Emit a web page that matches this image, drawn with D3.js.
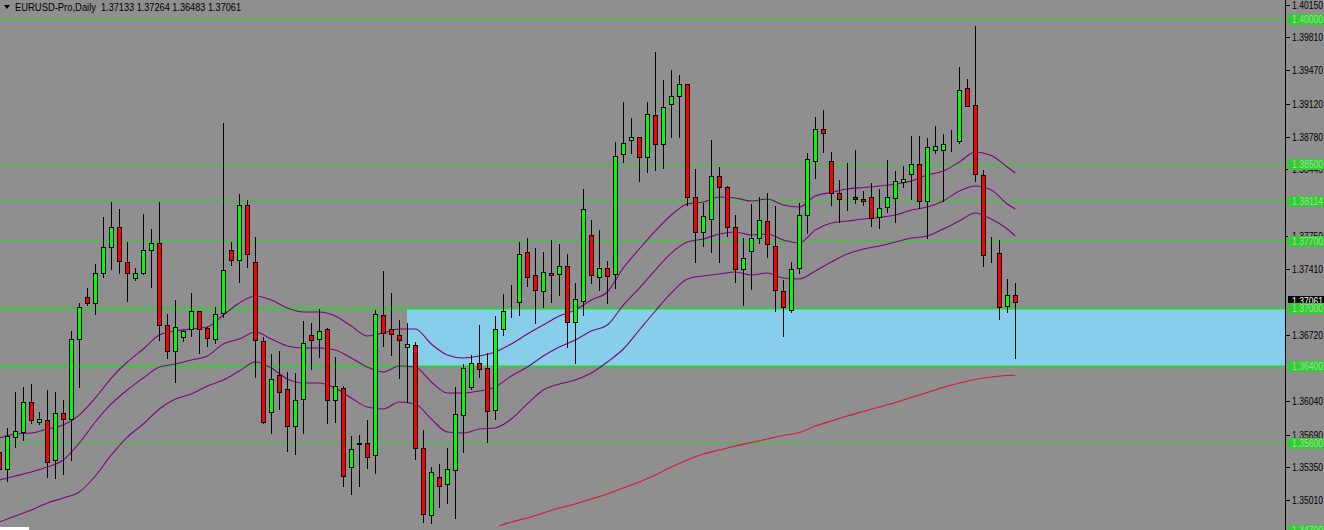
<!DOCTYPE html>
<html><head><meta charset="utf-8">
<script src="https://cdn.jsdelivr.net/npm/d3@7"></script>
<style>html,body{margin:0;padding:0;background:#8f8f8f;overflow:hidden}svg{display:block}</style>
</head><body><svg id="c" width="1324" height="530"></svg>
<script>
const symbolTitle = "EURUSD-Pro,Daily";
const headerValues = [1.37133, 1.37264, 1.36483, 1.37061];

const open = [
1.35510,1.35333,1.35665,1.35717,1.36028,1.35821,1.35842,1.35427,1.35914,1.35852,
1.36682,1.37117,1.37055,1.37366,1.37636,1.37843,1.37480,1.37314,1.37366,1.37604,
1.37677,1.36827,1.36557,1.36702,1.36785,1.36972,1.36796,1.36682,1.36951,1.37604,
1.37501,1.38071,1.37480,1.36661,1.35925,1.36308,1.36163,1.35779,1.36059,1.36723,
1.36682,1.36785,1.36049,1.36173,1.35354,1.35593,1.35603,1.35479,1.36930,1.36785,
1.36723,1.36599,1.36619,1.35551,1.34856,1.35251,1.35178,1.35323,1.35893,1.36184,
1.36433,1.36381,1.35945,1.36785,1.37034,1.37065,1.37584,1.37345,1.37179,1.37366,
1.37356,1.37439,1.36858,1.37076,1.37760,1.37325,1.37418,1.37356,1.38600,1.38745,
1.38776,1.38569,1.39004,1.38704,1.39119,1.39201,1.39326,1.38154,1.37791,1.37926,
1.38372,1.38258,1.37843,1.37407,1.37594,1.37729,1.37905,1.37646,1.37179,1.36982,
1.37418,1.37967,1.38527,1.38859,1.38527,1.38196,1.38133,1.38154,1.38133,1.38154,
1.37947,1.38050,1.38144,1.38310,1.38393,1.38496,1.38113,1.38641,1.38641,1.38745,
1.38735,1.39284,1.39108,1.38382,1.37563,1.37573,1.37024,1.37133];
const high = [
1.35582,1.35759,1.36132,1.36184,1.36215,1.35925,1.36153,1.36132,1.36049,1.36765,
1.37055,1.37210,1.37459,1.37947,1.38102,1.38030,1.37687,1.37418,1.37978,1.37822,
1.38102,1.36941,1.37086,1.36775,1.37159,1.36972,1.36806,1.37013,1.38921,1.37687,
1.38185,1.38123,1.37739,1.36702,1.36526,1.36557,1.36339,1.36329,1.36868,1.36847,
1.36993,1.36796,1.36495,1.36194,1.35676,1.35686,1.35842,1.36982,1.37387,1.37159,
1.36879,1.36847,1.36650,1.35738,1.35354,1.35385,1.35551,1.36184,1.36422,1.36516,
1.36827,1.36536,1.36920,1.37148,1.37241,1.37687,1.37729,1.37625,1.37584,1.37708,
1.37667,1.37563,1.37262,1.38237,1.37916,1.37812,1.37490,1.38724,1.39139,1.38973,
1.38776,1.39139,1.39658,1.39367,1.39471,1.39419,1.39326,1.38444,1.38092,1.38745,
1.38465,1.38268,1.37967,1.37729,1.38082,1.38154,1.38196,1.38061,1.37293,1.37480,
1.38092,1.38610,1.38984,1.39056,1.38621,1.38330,1.38507,1.38641,1.38216,1.38299,
1.38237,1.38538,1.38424,1.38476,1.38787,1.38787,1.38766,1.38890,1.38807,1.38849,
1.39502,1.39378,1.39927,1.38434,1.37739,1.37708,1.37304,1.37264];
const low = [
1.35271,1.35209,1.35562,1.35634,1.35810,1.35800,1.35251,1.35240,1.35282,1.35427,
1.36184,1.37034,1.36941,1.37325,1.37407,1.37366,1.37076,1.37293,1.37356,1.37221,
1.36671,1.36485,1.36236,1.36661,1.36713,1.36536,1.36609,1.36640,1.36910,1.37449,
1.37273,1.37428,1.36288,1.35810,1.35707,1.35956,1.35520,1.35489,1.35707,1.36370,
1.36495,1.35810,1.35821,1.35157,1.35074,1.35157,1.35344,1.35292,1.36609,1.36516,
1.36277,1.36028,1.35437,1.34784,1.34773,1.34939,1.34981,1.34825,1.35510,1.36163,
1.36288,1.35613,1.35852,1.36723,1.36910,1.36930,1.37231,1.36847,1.37013,1.37065,
1.37138,1.36599,1.36433,1.36930,1.37262,1.37190,1.37055,1.37210,1.38517,1.38610,
1.38320,1.38413,1.38434,1.38455,1.38776,1.38776,1.38071,1.37480,1.37646,1.37584,
1.37480,1.37750,1.37273,1.37034,1.37200,1.37677,1.37532,1.36972,1.36713,1.36962,
1.37366,1.37781,1.38351,1.38621,1.38071,1.37895,1.38019,1.38092,1.38071,1.37853,
1.37833,1.37999,1.37895,1.38258,1.38133,1.38040,1.37729,1.38610,1.38113,1.38631,
1.38714,1.39098,1.38320,1.37439,1.37480,1.36889,1.36962,1.36483];
const close = [
1.35333,1.35676,1.35728,1.36028,1.35842,1.35852,1.35406,1.35914,1.35852,1.36682,
1.37013,1.37055,1.37366,1.37636,1.37843,1.37490,1.37366,1.37366,1.37604,1.37677,
1.36827,1.36557,1.36806,1.36765,1.36972,1.36785,1.36692,1.36941,1.37397,1.37501,
1.38071,1.37563,1.36671,1.35821,1.36267,1.36132,1.35779,1.36049,1.36640,1.36671,
1.36765,1.36049,1.36194,1.35261,1.35541,1.35603,1.35458,1.36941,1.36744,1.36733,
1.36671,1.36630,1.35551,1.34867,1.35302,1.35157,1.35333,1.35904,1.36381,1.36433,
1.36370,1.35935,1.36785,1.36972,1.37034,1.37563,1.37325,1.37190,1.37376,1.37345,
1.37439,1.36858,1.37096,1.38030,1.37345,1.37418,1.37335,1.38579,1.38714,1.38776,
1.38569,1.39015,1.38704,1.39087,1.39201,1.39326,1.38154,1.37791,1.37957,1.38372,
1.38258,1.37843,1.37407,1.37522,1.37729,1.37916,1.37667,1.37190,1.37013,1.37407,
1.37967,1.38548,1.38859,1.38818,1.38196,1.38133,1.38133,1.38133,1.38113,1.37936,
1.38040,1.38154,1.38320,1.38341,1.38496,1.38113,1.38673,1.38683,1.38704,1.38745,
1.39264,1.39098,1.38393,1.37553,1.37563,1.37013,1.37138,1.37061];

// moving-average envelope lines, [bar index, price]
const maUpper = [[0,1.35655],[2,1.35696],[4,1.35707],[6,1.35748],[8,1.35790],[10,1.35893],[12,1.36070],[14,1.36277],[16,1.36443],[18,1.36578],
[20,1.36723],[22,1.36765],[24,1.36785],[26,1.36806],[28,1.36930],[30,1.37055],[32,1.37127],[34,1.37086],[36,1.37003],[38,1.36962],
[40,1.36962],[42,1.36920],[44,1.36816],[46,1.36713],[48,1.36744],[50,1.36785],[52,1.36785],[54,1.36630],[56,1.36516],[58,1.36485],
[60,1.36505],[62,1.36547],[64,1.36630],[66,1.36733],[68,1.36827],[70,1.36920],[72,1.36982],[74,1.37086],[76,1.37169],[78,1.37418],
[80,1.37615],[82,1.37802],[84,1.37967],[86,1.38082],[88,1.38102],[90,1.38154],[92,1.38144],[94,1.38113],[96,1.38133],[98,1.38071],
[100,1.38050],[102,1.38164],[104,1.38201],[106,1.38237],[108,1.38253],[110,1.38268],[112,1.38289],[114,1.38320],[116,1.38382],[118,1.38424],
[120,1.38517],[122,1.38621],[124,1.38584],[126,1.38465],[127,1.38403]];
const maMiddle = [[0,1.35219],[2,1.35261],[4,1.35302],[6,1.35354],[8,1.35427],[10,1.35603],[12,1.35821],[14,1.36008],[16,1.36153],[18,1.36277],
[20,1.36391],[22,1.36422],[24,1.36464],[26,1.36505],[28,1.36630],[30,1.36682],[32,1.36754],[34,1.36682],[36,1.36609],[38,1.36588],
[40,1.36588],[42,1.36567],[44,1.36485],[46,1.36391],[48,1.36339],[50,1.36402],[52,1.36391],[54,1.36236],[56,1.36122],[58,1.36122],
[60,1.36142],[62,1.36184],[64,1.36298],[66,1.36391],[68,1.36505],[70,1.36599],[72,1.36671],[74,1.36765],[76,1.36827],[78,1.37034],
[80,1.37210],[82,1.37397],[84,1.37573],[86,1.37687],[88,1.37719],[90,1.37770],[92,1.37791],[94,1.37760],[96,1.37770],[98,1.37708],
[100,1.37677],[102,1.37812],[104,1.37884],[106,1.37905],[108,1.37926],[110,1.37942],[112,1.37967],[114,1.38019],[116,1.38050],[118,1.38113],
[120,1.38216],[122,1.38268],[124,1.38227],[126,1.38082],[127,1.38030]];
const maLower = [[0,1.34784],[2,1.34846],[4,1.34908],[6,1.34981],[8,1.35033],[10,1.35095],[12,1.35261],[14,1.35479],[16,1.35665],[18,1.35800],
[20,1.35956],[22,1.36059],[24,1.36111],[26,1.36194],[28,1.36256],[30,1.36350],[32,1.36443],[34,1.36381],[36,1.36267],[38,1.36225],
[40,1.36225],[42,1.36173],[44,1.36070],[46,1.35976],[48,1.35956],[50,1.36028],[52,1.36008],[54,1.35852],[56,1.35717],[58,1.35707],
[60,1.35748],[62,1.35759],[64,1.35852],[66,1.36008],[68,1.36153],[70,1.36215],[72,1.36256],[74,1.36329],[76,1.36443],[78,1.36578],
[80,1.36775],[82,1.36972],[84,1.37159],[86,1.37304],[88,1.37335],[90,1.37356],[92,1.37376],[94,1.37345],[96,1.37366],[98,1.37314],
[100,1.37304],[102,1.37387],[104,1.37480],[106,1.37563],[108,1.37615],[110,1.37646],[112,1.37687],[114,1.37729],[116,1.37750],[118,1.37822],
[120,1.37905],[122,1.37988],[124,1.37926],[126,1.37822],[127,1.37750]];
const maSlow = [[60,1.34670],[62,1.34727],[64,1.34784],[66,1.34825],[68,1.34877],[70,1.34929],[72,1.34971],[74,1.35022],[76,1.35074],[78,1.35136],
[80,1.35199],[82,1.35271],[84,1.35354],[86,1.35427],[88,1.35489],[90,1.35530],[92,1.35572],[94,1.35608],[96,1.35645],[98,1.35681],
[100,1.35712],[102,1.35779],[104,1.35831],[106,1.35883],[108,1.35930],[110,1.35976],[112,1.36023],[114,1.36075],[116,1.36127],[118,1.36179],
[120,1.36225],[122,1.36262],[124,1.36288],[126,1.36303],[127,1.36305]];

const levelPrices = [1.40000, 1.38500, 1.38114, 1.37700, 1.37000, 1.36400, 1.35600, 1.34700];
const thickLevels = [1.37000, 1.36400];
const zoneStartBar = 51;
const zoneTop = 1.37000;
const zoneBottom = 1.36400;
const axisTicks = [1.40150,1.39810,1.39470,1.39120,1.38780,1.38440,1.37750,1.37410,1.36720,1.36040,1.35690,1.35350,1.35010];
const lastPrice = 1.37061;

const W = 1324, H = 530, plotRight = 1285;
const fmt = d3.format(".5f");
const x = d3.scaleLinear().domain([0, 127]).range([-0.7, 1015.3]);
const y = d3.scaleLinear().domain([1.40150, 1.35010]).range([4.53, 500.2]);
const FONT = "Liberation Sans, Arial, sans-serif";

const svg = d3.select("#c");
svg.append("rect").attr("width", W).attr("height", H).attr("fill", "#8f8f8f");
svg.append("defs").append("clipPath").attr("id", "plot")
  .append("rect").attr("x", 0).attr("y", 0).attr("width", plotRight).attr("height", 526);
const plot = svg.append("g").attr("clip-path", "url(#plot)");

// zone rectangle
plot.append("rect")
  .attr("x", Math.round(x(zoneStartBar)))
  .attr("y", Math.round(y(zoneTop)))
  .attr("width", plotRight - Math.round(x(zoneStartBar)))
  .attr("height", Math.round(y(zoneBottom)) - Math.round(y(zoneTop)))
  .attr("fill", "#87ceeb");

// horizontal levels
plot.selectAll("line.lvl").data(levelPrices).enter().append("line")
  .attr("x1", 0).attr("x2", plotRight)
  .attr("y1", d => Math.round(y(d)) + 0.5).attr("y2", d => Math.round(y(d)) + 0.5)
  .attr("stroke", "#32cd32")
  .attr("stroke-width", d => thickLevels.includes(d) ? 2 : 1);

// lines
const lineGen = d3.line().x(d => x(d[0])).y(d => y(d[1])).curve(d3.curveMonotoneX);
[[maUpper, "#800080"], [maMiddle, "#800080"], [maLower, "#800080"], [maSlow, "#dc143c"]].forEach(([data, col]) => {
  plot.append("path").attr("d", lineGen(data)).attr("fill", "none").attr("stroke", col).attr("stroke-width", 1.1);
});

// candles
const idx = d3.range(open.length);
const cg = plot.append("g");
idx.forEach(i => {
  const cx = Math.round(x(i));
  cg.append("line").attr("x1", cx + 0.5).attr("x2", cx + 0.5)
    .attr("y1", Math.round(y(high[i]))).attr("y2", Math.round(y(low[i])) + 1)
    .attr("stroke", "#000").attr("stroke-width", 1);
  const top = Math.round(y(Math.max(open[i], close[i])));
  const bot = Math.round(y(Math.min(open[i], close[i])));
  const fill = close[i] > open[i] ? "#00ff00" : (close[i] < open[i] ? "#ff0000" : "#000");
  cg.append("rect").attr("x", cx - 1.5).attr("y", top + 0.5)
    .attr("width", 4).attr("height", Math.max(0, bot - top))
    .attr("fill", fill).attr("stroke", "#000").attr("stroke-width", 1);
});

// price axis
svg.append("line").attr("x1", plotRight + 0.5).attr("x2", plotRight + 0.5).attr("y1", 0).attr("y2", H)
  .attr("stroke", "#000");
const ax = svg.append("g").attr("font-family", FONT).attr("font-size", 10.5);
axisTicks.forEach(t => {
  const ty = Math.round(y(t)) + 0.5;
  ax.append("line").attr("x1", plotRight + 1).attr("x2", plotRight + 5).attr("y1", ty).attr("y2", ty).attr("stroke", "#000");
  ax.append("text").attr("x", 1292).attr("y", ty).attr("dy", "0.36em").attr("fill", "#000")
    .attr("textLength", 31).attr("lengthAdjust", "spacingAndGlyphs").text(fmt(t));
});
// last price label
{
  const ty = Math.round(y(lastPrice));
  ax.append("rect").attr("x", 1288).attr("y", ty - 6).attr("width", 36).attr("height", 12).attr("fill", "#000");
  ax.append("text").attr("x", 1292).attr("y", ty - 1).attr("dy", "0.36em").attr("fill", "#fff")
    .attr("textLength", 31).attr("lengthAdjust", "spacingAndGlyphs").text(fmt(lastPrice));
}
// level labels
levelPrices.forEach(p => {
  const ty = Math.round(y(p));
  ax.append("rect").attr("x", 1288).attr("y", ty - 5).attr("width", 36).attr("height", 11).attr("fill", "#32cd32");
  ax.append("text").attr("x", 1292).attr("y", ty).attr("dy", "0.38em").attr("fill", "#a6dca6")
    .attr("textLength", 31).attr("lengthAdjust", "spacingAndGlyphs").text(fmt(p));
});

// title
const tg = svg.append("g").attr("font-family", FONT).attr("font-size", 10.5).attr("fill", "#000");
tg.append("path").attr("d", "M4,5 L10,5 L7,9 Z").attr("fill", "#000");
tg.append("text").attr("x", 15).attr("y", 11).attr("textLength", 81).attr("lengthAdjust", "spacingAndGlyphs").text(symbolTitle);
tg.append("text").attr("x", 101).attr("y", 11).attr("textLength", 140).attr("lengthAdjust", "spacingAndGlyphs")
  .text(headerValues.map(fmt).join(" "));

// lower window strip
svg.append("rect").attr("x", 0).attr("y", 527).attr("width", 29).attr("height", 3).attr("fill", "#fff");
</script>
</body></html>
